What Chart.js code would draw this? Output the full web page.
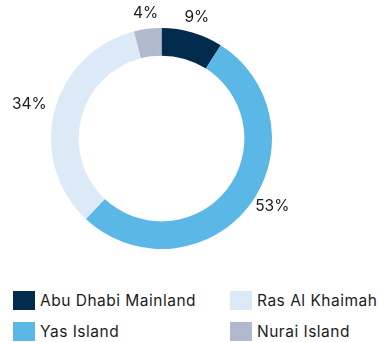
<!DOCTYPE html>
<html>
<head>
<meta charset="utf-8">
<script src="https://cdn.jsdelivr.net/npm/chart.js@4"></script>
<style>
  html, body { margin: 0; padding: 0; background: #fff; }
  body { width: 380px; height: 342px; overflow: hidden; font-family: Inter, "Open Sans", sans-serif; }
  #wrap { position: relative; width: 380px; height: 280px; }
  #legend { position: absolute; left: 13px; top: 291px; display: grid; grid-template-columns: 217px 150px; row-gap: 12px; }
  .item { display: flex; align-items: center; font-size: 15.5px; letter-spacing: 0.5px; color: #1b1b1b; height: 19px; white-space: nowrap; }
  .box { width: 22px; height: 19px; margin-right: 5px; flex: none; }
</style>
</head>
<body>
<div id="wrap"><canvas id="regionChart"></canvas></div>
<div id="legend"></div>
<script>
const regions = ["Abu Dhabi Mainland", "Yas Island", "Ras Al Khaimah", "Nurai Island"];
const shares = [9, 53, 34, 4];
const colours = ["#022B4E", "#5BB7E6", "#DCEAF8", "#B0B9CD"];

// percentage labels sit just outside each arc, at its middle angle
const outsideLabels = {
    id: "outsideLabels",
    afterDatasetsDraw(chart) {
        const ctx = chart.ctx;
        const meta = chart.getDatasetMeta(0);
        ctx.save();
        ctx.font = "15.5px Inter, 'Open Sans', sans-serif";
        ctx.fillStyle = "#1b1b1b";
        meta.data.forEach((arc, i) => {
            const p = arc.getProps(["x", "y", "startAngle", "endAngle", "outerRadius"], true);
            const mid = (p.startAngle + p.endAngle) / 2;
            const cos = Math.cos(mid), sin = Math.sin(mid);
            const side = Math.abs(cos) >= 0.6;
            // side labels hug the ring, top ones float a bit higher
            const r = p.outerRadius + (side ? 8 : 16);
            ctx.textAlign = side ? (cos > 0 ? "left" : "right") : "center";
            ctx.textBaseline = side ? "alphabetic" : "middle";
            ctx.fillText(shares[i] + "%", p.x + cos * r, p.y + sin * r);
        });
        ctx.restore();
    }
};

const ctx = document.getElementById("regionChart").getContext("2d");
new Chart(ctx, {
    type: "doughnut",
    data: {
        labels: regions,
        datasets: [{
            data: shares,
            backgroundColor: colours,
            borderWidth: 0
        }]
    },
    options: {
        responsive: true,
        maintainAspectRatio: false,
        animation: false,
        cutout: "75%",
        layout: { padding: { left: 51, right: 108, top: 28, bottom: 31 } },
        plugins: {
            legend: { display: false },
            tooltip: { enabled: false }
        }
    },
    plugins: [outsideLabels]
});

// legend is filled column by column
const legend = document.getElementById("legend");
[0, 2, 1, 3].forEach(i => {
    const item = document.createElement("div");
    item.className = "item";
    item.innerHTML = `<span class="box" style="background:${colours[i]}"></span>${regions[i]}`;
    legend.appendChild(item);
});
</script>
</body>
</html>
